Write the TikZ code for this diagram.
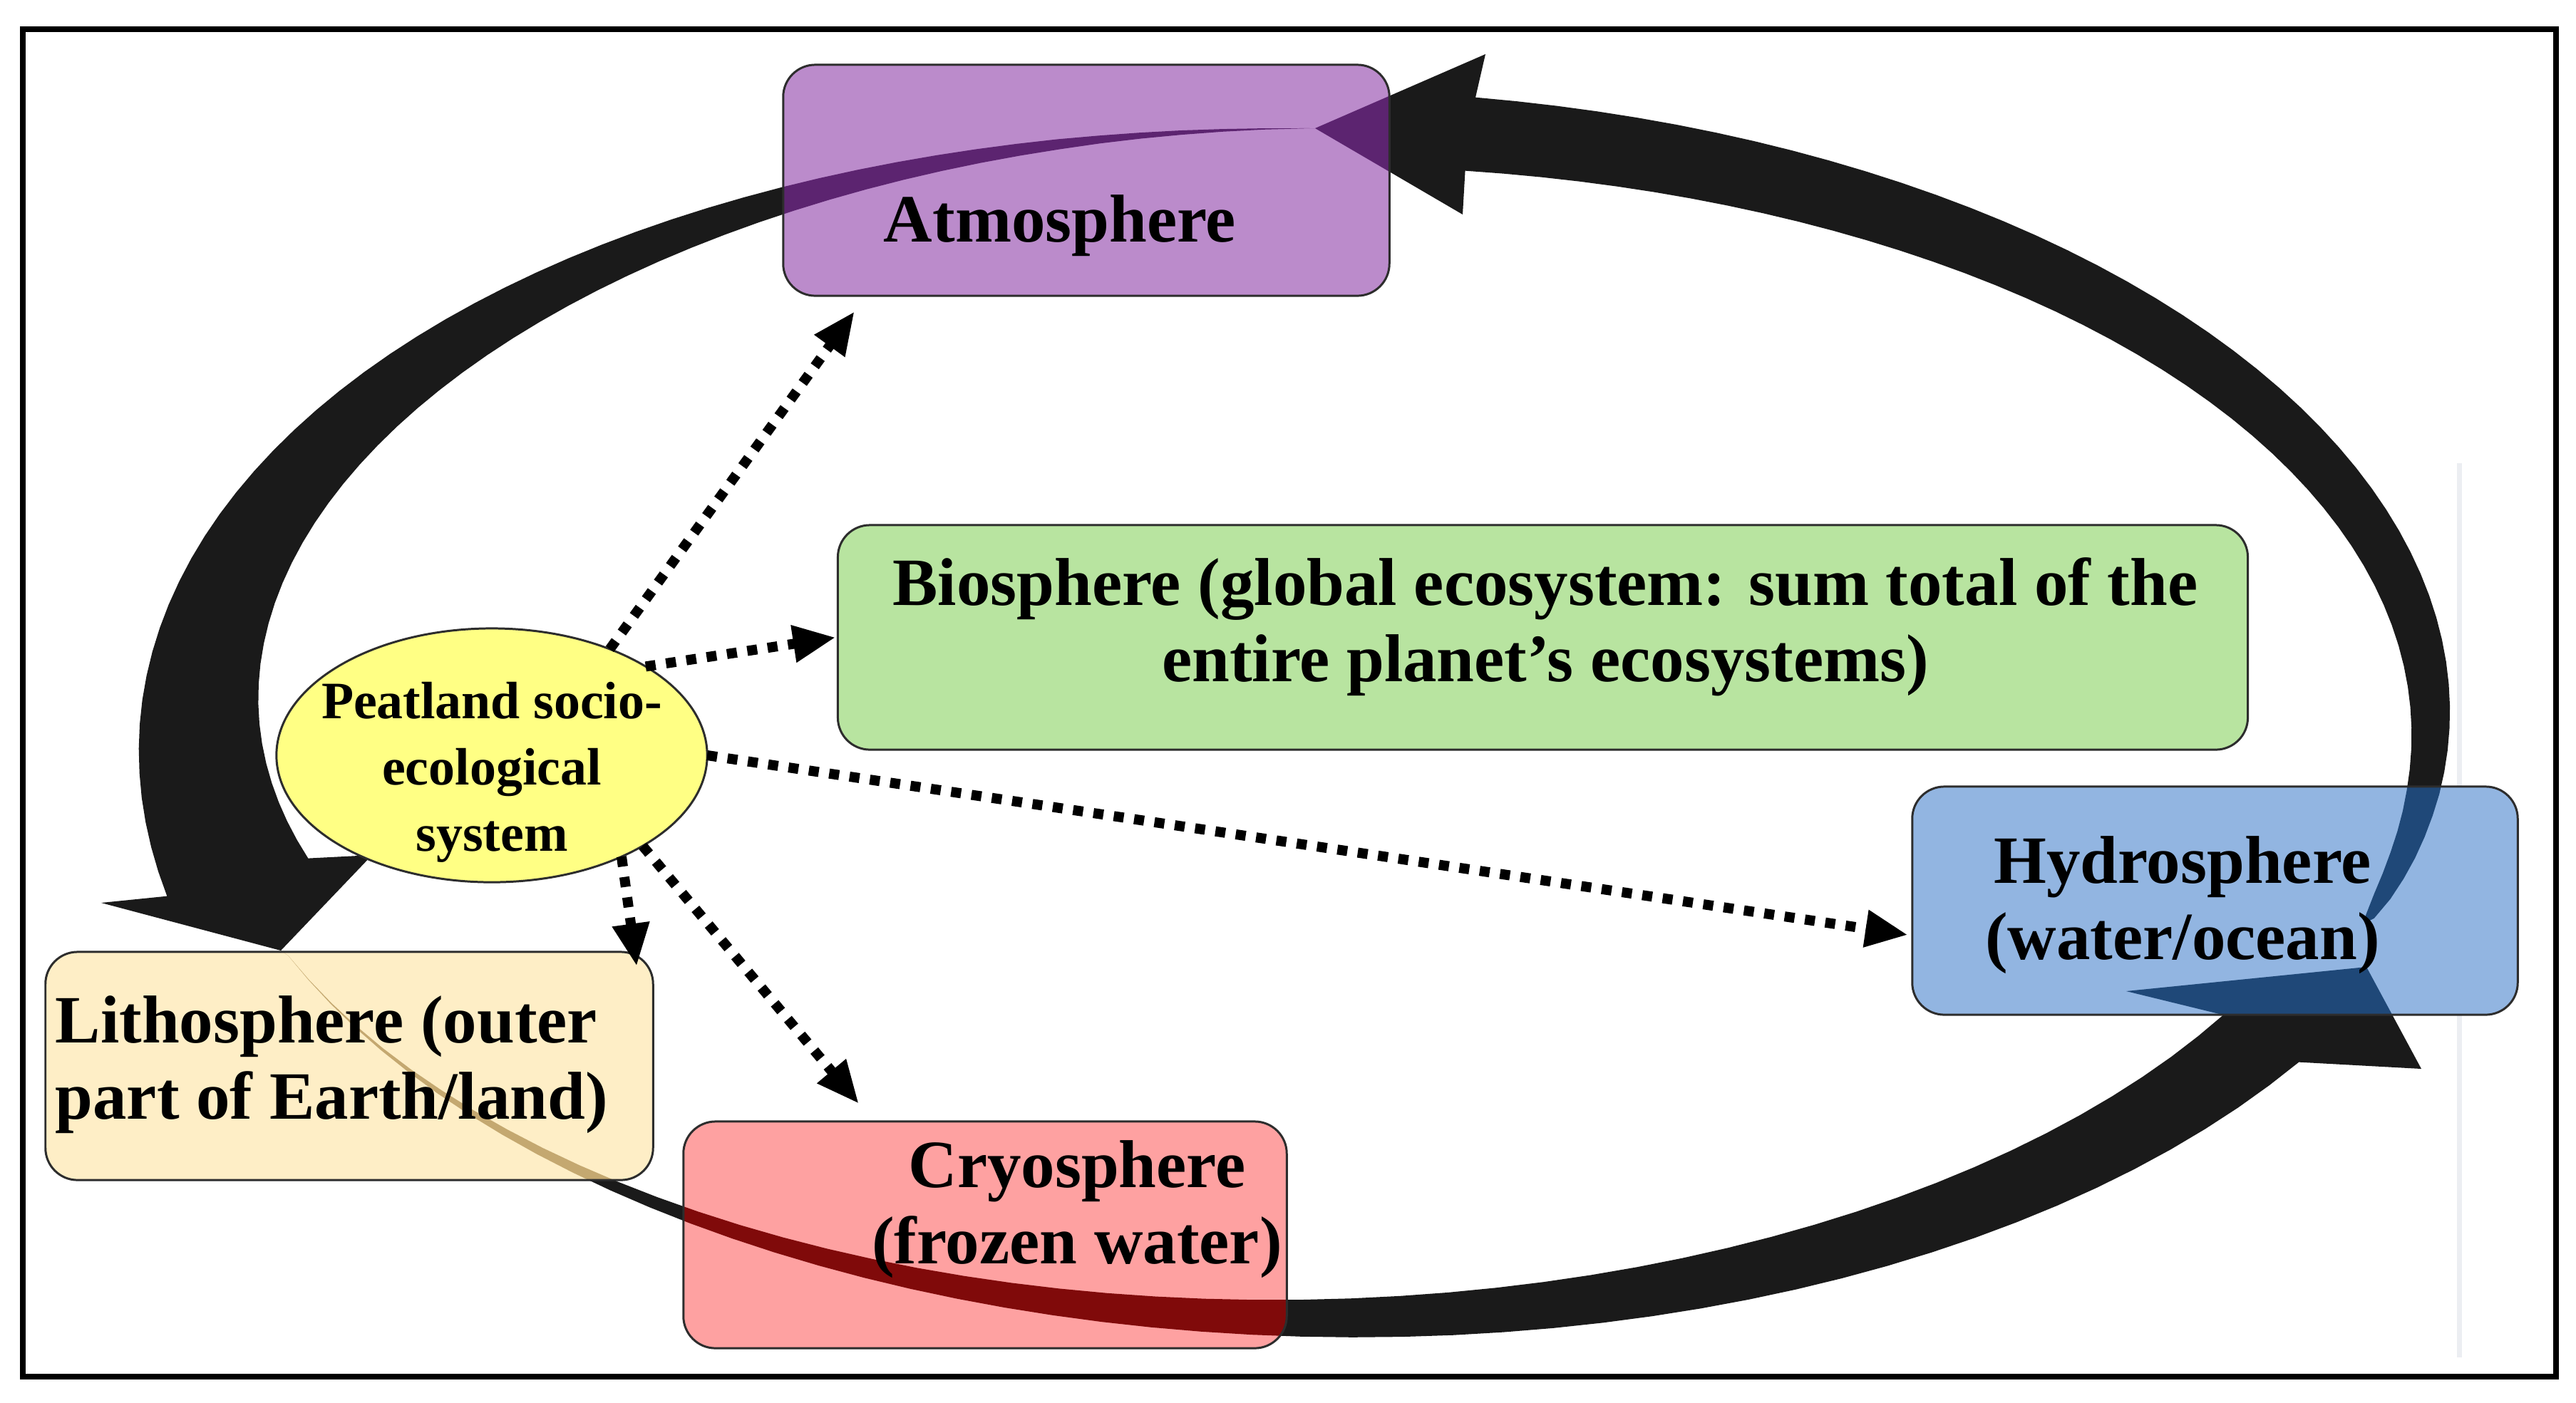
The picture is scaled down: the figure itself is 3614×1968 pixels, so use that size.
\documentclass[tikz,border=0pt]{standalone}
\usepackage{fontspec}
\setmainfont{Liberation Serif}
\usetikzlibrary{shapes.geometric,arrows.meta}
\pgfdeclarelayer{arcs}
\pgfdeclarelayer{fills}
\pgfdeclarelayer{shade}
\pgfsetlayers{arcs,fills,shade,main}
\definecolor{atmcol}{RGB}{187,139,203}
\definecolor{biocol}{RGB}{184,228,160}
\definecolor{hydcol}{RGB}{146,181,225}
\definecolor{litcol}{RGB}{254,238,198}
\definecolor{crycol}{RGB}{254,161,161}
\definecolor{psecol}{RGB}{255,255,132}
\definecolor{arcblack}{RGB}{26,26,26}
\definecolor{atmdark}{RGB}{92,36,112}
\definecolor{hyddark}{RGB}{31,72,120}
\definecolor{crydark}{RGB}{128,10,10}
\definecolor{litdark}{RGB}{196,168,112}
\definecolor{outline}{RGB}{45,45,45}
\definecolor{faint}{RGB}{236,238,242}
\tikzset{
  declare function={
    ex(\t,\w)=1845+(1565+\w)*cos(\t);
    ey(\t,\w)=1015-(835+\w)*sin(\t);
    wa(\t)=104*pow((\t+19.5)/101.5,0.4);
    wb(\t)=205*pow((\t-90)/105,1.3);
    wc(\t)=125*pow((\t-202.4)/125.6,1.4);
  },
  box/.style={draw=outline, line width=0.85pt, rounded corners=0.45cm, inner sep=0pt, outer sep=0pt},
  lbl/.style={font=\fontsize{27}{30.5}\selectfont\bfseries, inner sep=0pt},
  plbl/.style={font=\fontsize{21}{26.5}\selectfont\bfseries, inner sep=0pt, align=center},
  dotarrow/.style={line width=4pt, dash pattern=on 4pt off 4.2pt, line cap=butt,
    -{Triangle[length=17pt,width=14pt]}},
}
\def\arrA{(3320,1294) -- plot[variable=\t,domain=-19:82,samples=50] ({ex(\t,wa(\t)/2)},{ey(\t,wa(\t)/2)}) -- (2084,76) -- (1845,180) -- (2052,301) -- plot[variable=\t,domain=82:-19,samples=50] ({ex(\t,-wa(\t)/2)},{ey(\t,-wa(\t)/2)}) -- cycle}
\def\arrB{(1845,180) -- plot[variable=\t,domain=90.5:195,samples=50] ({ex(\t,wb(\t)/2)},{ey(\t,wb(\t)/2)}) -- (142,1267) -- (394,1334) -- (522,1200) -- plot[variable=\t,domain=195:90.5,samples=50] ({ex(\t,-wb(\t)/2)},{ey(\t,-wb(\t)/2)}) -- cycle}
\def\arrC{(394,1334) -- plot[variable=\t,domain=203:328,samples=50] ({ex(\t,wc(\t)/2)},{ey(\t,wc(\t)/2)}) -- (3397,1500) -- (3320,1357) -- (2983,1391) -- plot[variable=\t,domain=328:203,samples=50] ({ex(\t,-wc(\t)/2)},{ey(\t,-wc(\t)/2)}) -- cycle}
\begin{document}
\begin{tikzpicture}[x=0.01cm, y=-0.01cm]
\useasboundingbox (0,0) rectangle (3614,1968);

% boxes (outline + name)
\node[box, minimum width=8.5cm, minimum height=3.24cm] (atm) at (1524,253) {};
\node[box, minimum width=19.77cm, minimum height=3.15cm] (bio) at (2164.5,894.5) {};
\node[box, minimum width=8.49cm, minimum height=3.2cm] (hyd) at (3107.5,1264) {};
\node[box, minimum width=8.52cm, minimum height=3.2cm] (lit) at (490,1496) {};
\node[box, minimum width=8.46cm, minimum height=3.18cm] (cry) at (1382,1733) {};
\node[draw=outline, fill=psecol, line width=0.85pt, ellipse, minimum width=6.04cm, minimum height=3.56cm, inner sep=0pt, outer sep=0pt] (pse) at (690,1060) {};

% labels
\node[lbl] (atmT) at (1487,317) {Atmosphere};
\node[lbl, align=center] (bioT) at (2168,880) {Biosphere (global ecosystem: sum total of the\\entire planet’s ecosystems)};
\node[lbl, align=center] (hydT) at (3062,1270) {Hydrosphere\\(water/ocean)};
\node[lbl, align=left, anchor=west] (litT) at (77,1494) {Lithosphere (outer\\part of Earth/land)};
\node[lbl, align=center] (cryT) at (1511,1697) {Cryosphere\\(frozen water)};
\node[plbl] (pseT) at (690,1084) {Peatland socio-\\ecological\\system};

% big cycle arrows
\begin{pgfonlayer}{arcs}
  \fill[white] (0,0) rectangle (3614,1968);
  \draw[faint, line width=2pt] (3450,650) -- (3450,1905);
  \fill[arcblack] \arrA \arrB \arrC;
\end{pgfonlayer}

% box fills
\begin{pgfonlayer}{fills}
  \fill[atmcol, rounded corners=0.45cm] (atm.south west) rectangle (atm.north east);
  \fill[biocol, rounded corners=0.45cm] (bio.south west) rectangle (bio.north east);
  \fill[hydcol, rounded corners=0.45cm] (hyd.south west) rectangle (hyd.north east);
  \fill[litcol, rounded corners=0.45cm] (lit.south west) rectangle (lit.north east);
  \fill[crycol, rounded corners=0.45cm] (cry.south west) rectangle (cry.north east);
\end{pgfonlayer}

% arcs seen through the boxes
\begin{pgfonlayer}{shade}
  \begin{scope}
    \clip[rounded corners=0.45cm] (atm.south west) rectangle (atm.north east);
    \fill[atmdark] \arrA \arrB;
  \end{scope}
  \begin{scope}
    \clip[rounded corners=0.45cm] (hyd.south west) rectangle (hyd.north east);
    \fill[hyddark] \arrA \arrC;
  \end{scope}
  \begin{scope}
    \clip[rounded corners=0.45cm] (lit.south west) rectangle (lit.north east);
    \fill[litdark] \arrB \arrC;
  \end{scope}
  \begin{scope}
    \clip[rounded corners=0.45cm] (cry.south west) rectangle (cry.north east);
    \fill[crydark] \arrC;
  \end{scope}
\end{pgfonlayer}

% dotted influence arrows
\draw[dotarrow] (pse.42) -- ([xshift=1cm,yshift=-0.22cm]atm.south west);
\draw[dotarrow] (pse.30) -- ([xshift=-0.03cm]bio.west);
\draw[dotarrow] (pse.east) -- ([xshift=-0.06cm,yshift=-0.48cm]hyd.west);
\draw[dotarrow] (pse.-38) -- ([xshift=-0.23cm,yshift=-0.2cm]lit.north east);
\draw[dotarrow] (pse.-31) -- ([xshift=2.46cm,yshift=0.25cm]cry.north west);

% frame
\draw[line width=2.5pt] (32,41) rectangle (3586,1932);
\end{tikzpicture}
\end{document}
